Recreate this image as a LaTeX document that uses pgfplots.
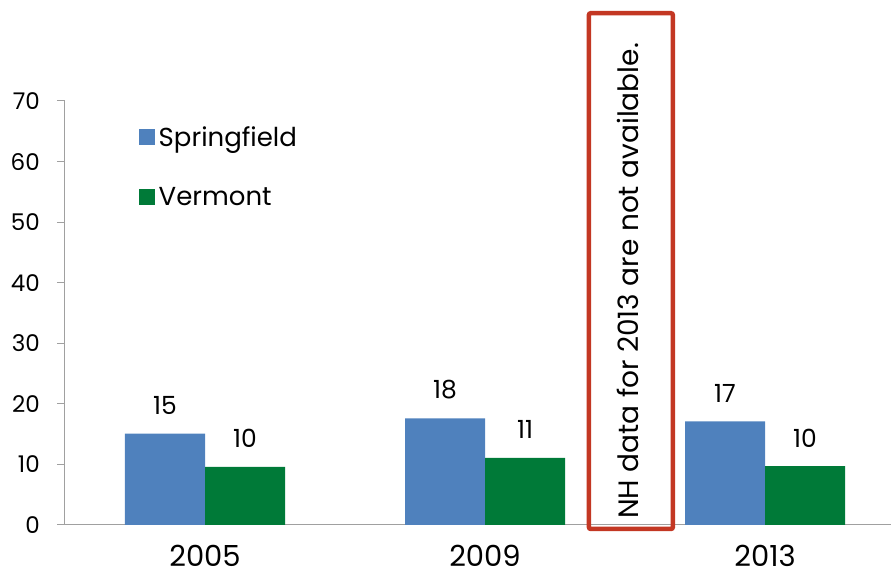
\documentclass[border=0pt]{standalone}
\usepackage{pgfplots}
\pgfplotsset{compat=1.18}
\usepackage{fontspec}
\setmainfont{Poppins}
\definecolor{sfblue}{RGB}{79,129,189}
\definecolor{vtgreen}{RGB}{0,122,56}
\definecolor{boxred}{RGB}{195,55,35}
\definecolor{axgray}{RGB}{160,160,160}
\begin{document}
\begin{tikzpicture}
\path[use as bounding box] (-65pt,-50pt) rectangle (826pt,525pt);
\begin{axis}[
  at={(0,0)}, anchor=south west,
  scale only axis, width=826pt, height=424pt,
  xmin=-0.5, xmax=2.45, ymin=0, ymax=70,
  ybar=0pt, bar width=80pt,
  axis x line=bottom, axis y line=left,
  axis line style={draw=axgray, line width=1pt, -},
  xtick={0,1,2}, xticklabels={2005,2009,2013},
  major x tick style={draw=none},
  extra x ticks={-0.5,0.5,1.5,2.5}, extra x tick labels={},
  extra x tick style={major tick length=9pt, tick align=outside, tick style={draw=axgray, line width=1pt}},
  ytick={0,10,...,70},
  y tick style={draw=axgray, line width=1pt},
  tick align=outside, major tick length=8pt,
  /pgf/number format/assume math mode=true,
  xticklabel style={font=\fontsize{29}{33}\selectfont, inner sep=0pt, anchor=north, yshift=-12pt},
  yticklabel style={font=\fontsize{23}{27}\selectfont, inner sep=0pt, anchor=east, xshift=-17pt},
  nodes near coords={\pgfmathprintnumber[fixed,precision=0]{\pgfplotspointmeta}},
  nodes near coords style={font=\fontsize{25}{29}\selectfont, inner sep=0pt, anchor=south, yshift=19pt, text=black},
  clip=false,
  legend style={draw=none, fill=none, at={(rel axis cs:0.089,0.94)}, anchor=north west,
    font=\fontsize{26}{30}\selectfont, row sep=39pt, inner sep=0pt, nodes={inner xsep=4pt, inner ysep=0pt}},
  legend cell align=left,
  legend image code/.code={\fill[#1] (0pt,-8pt) rectangle (16pt,8pt);},
]
\addplot[fill=sfblue, draw=none] coordinates {(0,15.1) (1,17.6) (2,17.1)};
\addplot[fill=vtgreen, draw=none] coordinates {(0,9.6) (1,11.1) (2,9.7)};
\legend{Springfield, Vermont}
\draw[boxred, line width=4.5pt, rounded corners=2pt] (axis cs:1.371,-0.66) rectangle (axis cs:1.671,84.5);
\node[rotate=90, font=\fontsize{28}{32}\selectfont, inner sep=0pt] at (axis cs:1.511,40.3) {NH data for 2013 are not available.};
\end{axis}
\end{tikzpicture}
\end{document}
